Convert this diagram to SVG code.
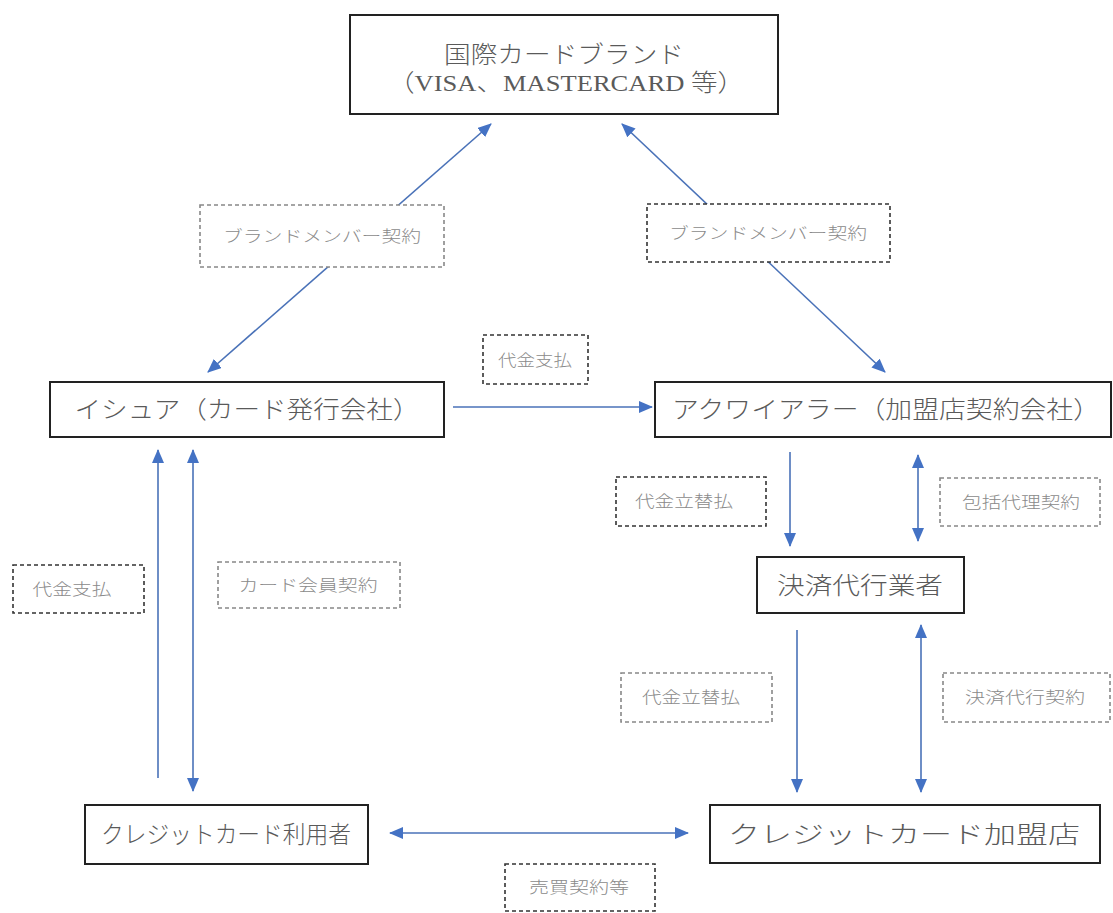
<svg xmlns="http://www.w3.org/2000/svg" width="1113" height="913" viewBox="0 0 1113 913">
<defs>
<marker id="ah" viewBox="0 0 14 12" refX="13" refY="6" markerWidth="14" markerHeight="12" orient="auto-start-reverse" markerUnits="userSpaceOnUse">
<path d="M0,0 L14,6 L0,12 z" fill="#4472C4"/>
</marker>
</defs>
<style>
.node rect{fill:#fff;stroke:#222;stroke-width:2}
.nt{font-family:"Liberation Serif","Noto Sans CJK JP",serif;font-size:24px;font-weight:300;fill:#5a5a5a;text-anchor:middle}
.lab rect{fill:#fff;stroke-width:1.6;stroke-dasharray:4 3}
.lab.d rect{stroke:#333}
.lab.g rect{stroke:#888}
.lt{font-family:"Noto Sans CJK JP",sans-serif;font-size:16px;font-weight:300;fill:#8a8a8a;text-anchor:middle}
.cn line{stroke:#4a72b8;stroke-width:1.6;fill:none}
</style>
<rect width="1113" height="913" fill="#fff"/>
<g id="connectors" class="cn">
<line x1="208" y1="372" x2="491" y2="124" marker-start="url(#ah)" marker-end="url(#ah)"/>
<line x1="885" y1="372" x2="622" y2="124" marker-start="url(#ah)" marker-end="url(#ah)"/>
<line x1="453" y1="407" x2="652" y2="407" marker-end="url(#ah)"/>
<line x1="158" y1="778" x2="158" y2="450" marker-end="url(#ah)"/>
<line x1="193" y1="450" x2="193" y2="791" marker-start="url(#ah)" marker-end="url(#ah)"/>
<line x1="790" y1="452" x2="790" y2="546" marker-end="url(#ah)"/>
<line x1="918" y1="455" x2="918" y2="541" marker-start="url(#ah)" marker-end="url(#ah)"/>
<line x1="797" y1="630" x2="797" y2="792" marker-end="url(#ah)"/>
<line x1="921" y1="625" x2="921" y2="792" marker-start="url(#ah)" marker-end="url(#ah)"/>
<line x1="390" y1="833" x2="688" y2="833" marker-start="url(#ah)" marker-end="url(#ah)"/>
</g>
<g id="brand" class="node">
<rect x="350" y="15" width="428" height="99"/>
<text class="nt" x="564" y="63" textLength="240" lengthAdjust="spacingAndGlyphs">国際カードブランド</text>
<text class="nt" x="566" y="91" textLength="356" lengthAdjust="spacingAndGlyphs">（VISA、MASTERCARD 等）</text>
</g>
<g id="issuer" class="node">
<rect x="50" y="382" width="394" height="55"/>
<text class="nt" x="247" y="418" textLength="345" lengthAdjust="spacingAndGlyphs">イシュア（カード発行会社）</text>
</g>
<g id="acquirer" class="node">
<rect x="655" y="382" width="456" height="55"/>
<text class="nt" x="886" y="418" textLength="428" lengthAdjust="spacingAndGlyphs">アクワイアラー（加盟店契約会社）</text>
</g>
<g id="psp" class="node">
<rect x="757" y="557" width="207" height="56"/>
<text class="nt" x="860" y="594" textLength="166" lengthAdjust="spacingAndGlyphs">決済代行業者</text>
</g>
<g id="user" class="node">
<rect x="85" y="805" width="283" height="59"/>
<text class="nt" x="226" y="843" textLength="250" lengthAdjust="spacingAndGlyphs">クレジットカード利用者</text>
</g>
<g id="merchant" class="node">
<rect x="710" y="805" width="390" height="58"/>
<text class="nt" x="904" y="843" textLength="352" lengthAdjust="spacingAndGlyphs">クレジットカード加盟店</text>
</g>
<g id="lab-brand-l" class="lab g">
<rect x="200" y="205" width="244" height="62"/>
<text class="lt" x="322" y="242" textLength="198" lengthAdjust="spacingAndGlyphs">ブランドメンバー契約</text>
</g>
<g id="lab-brand-r" class="lab d">
<rect x="647" y="204" width="243" height="58"/>
<text class="lt" x="768" y="239" textLength="198" lengthAdjust="spacingAndGlyphs">ブランドメンバー契約</text>
</g>
<g id="lab-pay-mid" class="lab d">
<rect x="483" y="335" width="105" height="49"/>
<text class="lt" x="535" y="366" textLength="74" lengthAdjust="spacingAndGlyphs">代金支払</text>
</g>
<g id="lab-pay-left" class="lab d">
<rect x="13" y="565" width="131" height="48"/>
<text class="lt" x="72" y="595" textLength="79" lengthAdjust="spacingAndGlyphs">代金支払</text>
</g>
<g id="lab-member" class="lab g">
<rect x="218" y="562" width="182" height="46"/>
<text class="lt" x="308" y="591" textLength="139" lengthAdjust="spacingAndGlyphs">カード会員契約</text>
</g>
<g id="lab-adv1" class="lab d">
<rect x="616" y="477" width="150" height="49"/>
<text class="lt" x="684" y="507" textLength="98" lengthAdjust="spacingAndGlyphs">代金立替払</text>
</g>
<g id="lab-agency" class="lab g">
<rect x="940" y="478" width="160" height="48"/>
<text class="lt" x="1021" y="508" textLength="118" lengthAdjust="spacingAndGlyphs">包括代理契約</text>
</g>
<g id="lab-adv2" class="lab g">
<rect x="621" y="673" width="151" height="49"/>
<text class="lt" x="691" y="703" textLength="98" lengthAdjust="spacingAndGlyphs">代金立替払</text>
</g>
<g id="lab-psp" class="lab g">
<rect x="943" y="673" width="167" height="49"/>
<text class="lt" x="1025" y="703" textLength="120" lengthAdjust="spacingAndGlyphs">決済代行契約</text>
</g>
<g id="lab-sale" class="lab d">
<rect x="505" y="864" width="150" height="47"/>
<text class="lt" x="579" y="893" textLength="100" lengthAdjust="spacingAndGlyphs">売買契約等</text>
</g>
</svg>
